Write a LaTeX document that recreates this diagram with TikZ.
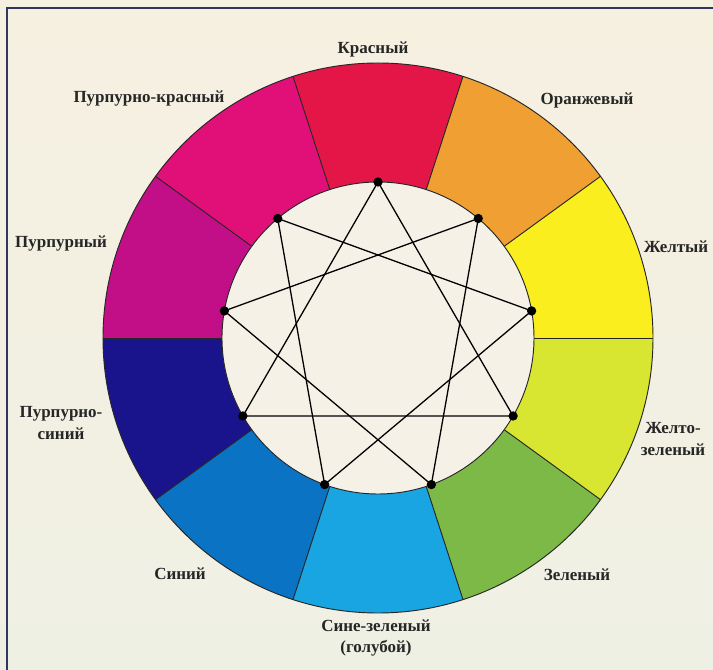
\documentclass[tikz,border=0pt]{standalone}
\usepackage{fontspec}
\setmainfont{Liberation Serif}
\usetikzlibrary{calc}
\definecolor{paper}{RGB}{246,240,225}
\definecolor{paperlow}{RGB}{239,240,228}
\definecolor{frameblue}{RGB}{50,54,96}
\definecolor{innerwhite}{RGB}{245,241,231}
\definecolor{krasnyj}{RGB}{228,22,72}
\definecolor{oranzhevyj}{RGB}{240,160,50}
\definecolor{zheltyj}{RGB}{250,238,30}
\definecolor{zheltozelenyj}{RGB}{216,230,50}
\definecolor{zelenyj}{RGB}{125,185,70}
\definecolor{sinezelenyj}{RGB}{25,165,225}
\definecolor{sinij}{RGB}{10,115,195}
\definecolor{purpurnosinij}{RGB}{25,20,140}
\definecolor{purpurnyj}{RGB}{195,15,135}
\definecolor{purpurnokrasnyj}{RGB}{225,15,120}
\def\Rout{8.25}
\def\Rin{4.68}
\def\wheelpart[#1](#2:#3){\fill[#1] (0,0) -- (#2:\Rout) arc (#2:#3:\Rout) -- cycle;}
\tikzset{
  lbl/.style={font=\bfseries\fontsize{14.5}{18.5}\selectfont, text=black!85, align=center},
  starline/.style={line width=1.1pt},
  border/.style={line width=0.8pt, black!85}
}

\begin{document}
\begin{tikzpicture}
		%%%%% PAGE %%%%%
		\useasboundingbox (-11.34,-9.96) rectangle (10.05,10.14);
		\shade[top color=paper, bottom color=paperlow] (-11.34,-9.96) rectangle (10.05,10.14);
		\draw[line width=1.2pt, frameblue] (-11.13,-9.96) -- (-11.13,9.9) -- (10.05,9.9);
		
		%%%%% WHEEL %%%%%
		\wheelpart[krasnyj](72:108)
		\wheelpart[oranzhevyj](36:72)
		\wheelpart[zheltyj](0:36)
		\wheelpart[zheltozelenyj](-36:0)
		\wheelpart[zelenyj](-72:-36)
		\wheelpart[sinezelenyj](-108:-72)
		\wheelpart[sinij](-144:-108)
		\wheelpart[purpurnosinij](-180:-144)
		\wheelpart[purpurnyj](144:180)
		\wheelpart[purpurnokrasnyj](108:144)
		
		\draw[border] (0:\Rin) -- (0:\Rout);
		\draw[border] (36:\Rin) -- (36:\Rout);
		\draw[border] (72:\Rin) -- (72:\Rout);
		\draw[border] (108:\Rin) -- (108:\Rout);
		\draw[border] (144:\Rin) -- (144:\Rout);
		\draw[border] (180:\Rin) -- (180:\Rout);
		\draw[border] (216:\Rin) -- (216:\Rout);
		\draw[border] (252:\Rin) -- (252:\Rout);
		\draw[border] (288:\Rin) -- (288:\Rout);
		\draw[border] (324:\Rin) -- (324:\Rout);
		\draw[border] (0,0) circle (\Rout);
		\draw[border, fill=innerwhite] (0,0) circle (\Rin);
		
		%%%%% STAR %%%%%
		\coordinate (p90) at (90:\Rin);
		\coordinate (p50) at (50:\Rin);
		\coordinate (p10) at (10:\Rin);
		\coordinate (p330) at (330:\Rin);
		\coordinate (p290) at (290:\Rin);
		\coordinate (p250) at (250:\Rin);
		\coordinate (p210) at (210:\Rin);
		\coordinate (p170) at (170:\Rin);
		\coordinate (p130) at (130:\Rin);
		
		\draw[starline] (p90) -- (p330) -- (p210) -- cycle;
		\draw[starline] (p130) -- (p10) -- (p250) -- cycle;
		\draw[starline] (p50) -- (p170) -- (p290) -- cycle;
		
		\fill (p90) circle (0.14);
		\fill (p50) circle (0.14);
		\fill (p10) circle (0.14);
		\fill (p330) circle (0.14);
		\fill (p290) circle (0.14);
		\fill (p250) circle (0.14);
		\fill (p210) circle (0.14);
		\fill (p170) circle (0.14);
		\fill (p130) circle (0.14);
		
		%%%%% LABELS %%%%%
		\node[lbl] (red) at (-0.15, 8.67) {Красный};
		\node[lbl] (orange) at (6.27, 7.14) {Оранжевый};
		\node[lbl] (yellow) at (8.94, 2.73) {Желтый};
		\node[lbl] (yellowgreen) at (8.85, -3.03) {Желто-\\зеленый};
		\node[lbl] (green) at (5.97, -7.11) {Зеленый};
		\node[lbl] (bluegreen) at (-0.06, -9.0) {Сине-зеленый\\(голубой)};
		\node[lbl] (blue) at (-5.94, -7.08) {Синий};
		\node[lbl] (purpleblue) at (-9.51, -2.55) {Пурпурно-\\синий};
		\node[lbl] (purple) at (-9.51, 2.85) {Пурпурный};
		\node[lbl] (purplered) at (-6.87, 7.2) {Пурпурно-красный};
\end{tikzpicture}
\end{document}
